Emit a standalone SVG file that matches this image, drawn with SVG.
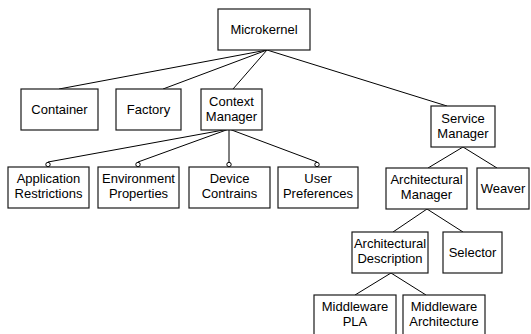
<svg xmlns="http://www.w3.org/2000/svg" width="531" height="334" viewBox="0 0 531 334">
<style>
.box{fill:#fff;stroke:#1a1a1a;stroke-width:1.2}
.t{font-family:"Liberation Sans",Arial,sans-serif;font-size:13px;fill:#000;text-anchor:middle}
.c line{stroke:#000;stroke-width:1}
.dot{fill:#fff;stroke:#000;stroke-width:1}
</style>
<rect width="531" height="334" fill="#fff"/>
<g id="connectors" class="c">
<line x1="267" y1="50" x2="59" y2="89"/>
<line x1="267" y1="50" x2="163" y2="89"/>
<line x1="267" y1="50" x2="233" y2="89"/>
<line x1="267" y1="50" x2="447" y2="106"/>
<line x1="229" y1="129" x2="48" y2="162"/>
<line x1="229" y1="129" x2="138" y2="162"/>
<line x1="229" y1="129" x2="229" y2="162"/>
<line x1="229" y1="129" x2="317" y2="162"/>
<circle class="dot" cx="48" cy="164.5" r="2.2"/>
<circle class="dot" cx="138" cy="164.5" r="2.2"/>
<circle class="dot" cx="229" cy="164.5" r="2.2"/>
<circle class="dot" cx="317" cy="164.5" r="2.2"/>
<line x1="463" y1="147" x2="428" y2="168"/>
<line x1="463" y1="147" x2="497" y2="168"/>
<line x1="427" y1="209" x2="393" y2="232"/>
<line x1="427" y1="209" x2="463" y2="232"/>
<line x1="391" y1="273" x2="355" y2="295"/>
<line x1="391" y1="273" x2="426" y2="295"/>
</g>
<g id="microkernel"><rect class="box" x="218" y="9" width="92" height="41"/><text class="t" x="264" y="34">Microkernel</text></g>
<g id="container"><rect class="box" x="21" y="89" width="77" height="41"/><text class="t" x="59.5" y="114">Container</text></g>
<g id="factory"><rect class="box" x="116" y="89" width="65" height="41"/><text class="t" x="148.5" y="114">Factory</text></g>
<g id="context-manager"><rect class="box" x="201" y="89" width="61" height="41"/><text class="t" x="231.5" y="106">Context</text><text class="t" x="231.5" y="121">Manager</text></g>
<g id="service-manager"><rect class="box" x="431" y="106" width="64" height="41"/><text class="t" x="463" y="123">Service</text><text class="t" x="463" y="138">Manager</text></g>
<g id="application-restrictions"><rect class="box" x="8" y="167" width="81" height="41"/><text class="t" x="48.5" y="183">Application</text><text class="t" x="48.5" y="198">Restrictions</text></g>
<g id="environment-properties"><rect class="box" x="98" y="167" width="81" height="41"/><text class="t" x="138.5" y="183">Environment</text><text class="t" x="138.5" y="198">Properties</text></g>
<g id="device-contrains"><rect class="box" x="189" y="167" width="81" height="41"/><text class="t" x="229.5" y="183">Device</text><text class="t" x="229.5" y="198">Contrains</text></g>
<g id="user-preferences"><rect class="box" x="278" y="167" width="80" height="41"/><text class="t" x="318" y="183">User</text><text class="t" x="318" y="198">Preferences</text></g>
<g id="architectural-manager"><rect class="box" x="386" y="168" width="81" height="41"/><text class="t" x="426.5" y="184">Architectural</text><text class="t" x="426.5" y="199">Manager</text></g>
<g id="weaver"><rect class="box" x="477" y="168" width="52" height="41"/><text class="t" x="503" y="193">Weaver</text></g>
<g id="architectural-description"><rect class="box" x="352" y="232" width="76" height="41"/><text class="t" x="390" y="248">Architectural</text><text class="t" x="390" y="263">Description</text></g>
<g id="selector"><rect class="box" x="443" y="232" width="59" height="41"/><text class="t" x="472.5" y="257">Selector</text></g>
<g id="middleware-pla"><rect class="box" x="314" y="295" width="82" height="42"/><text class="t" x="355" y="311">Middleware</text><text class="t" x="355" y="326">PLA</text></g>
<g id="middleware-architecture"><rect class="box" x="403" y="295" width="82" height="42"/><text class="t" x="444" y="311">Middleware</text><text class="t" x="444" y="326">Architecture</text></g>
</svg>
